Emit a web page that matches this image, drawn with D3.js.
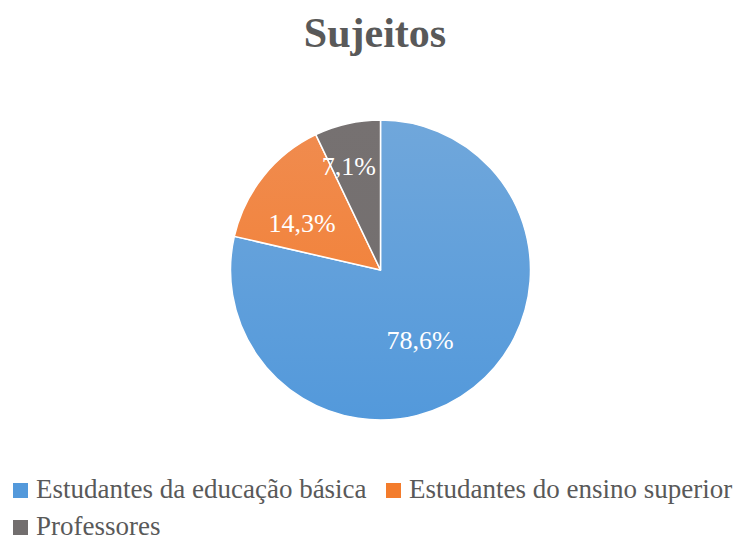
<!DOCTYPE html>
<html>
<head>
<meta charset="utf-8">
<script src="https://cdn.jsdelivr.net/npm/d3@7"></script>
<style>
	body { margin: 0; background: #fff; }
	svg text { font-family: "Liberation Serif", "Times New Roman", serif; }
</style>
</head>
<body>
<div class="pie-container"></div>
<script>
//---->DATA<-----//
const categories = ['Estudantes da educação básica', 'Estudantes do ensino superior', 'Professores'];
const values = [78.6, 14.3, 7.1];
const labels = ['78,6%', '14,3%', '7,1%'];
const title = 'Sujeitos';

const colorsTop = ['#70a7db', '#f08c50', '#767171'],
	colorsBottom = ['#5399db', '#f37c2c', '#726e6e'];

const outerW = 736,
	outerH = 538;

const cx = 380.5,
	cy = 270,
	radius = 150;

const data = categories.map((c, i) => ({ name: c, value: values[i], label: labels[i], i: i }));

const svg = d3.select('.pie-container').append('svg')
	.attr('width', outerW)
	.attr('height', outerH);

// gradients (top light -> bottom dark), in the pie group's coords
const defs = svg.append('defs');
data.forEach(d => {
	const grad = defs.append('linearGradient')
		.attr('id', 'grad' + d.i)
		.attr('gradientUnits', 'userSpaceOnUse')
		.attr('x1', 0).attr('y1', -radius)
		.attr('x2', 0).attr('y2', radius);
	grad.append('stop').attr('offset', '0%').attr('stop-color', colorsTop[d.i]);
	grad.append('stop').attr('offset', '100%').attr('stop-color', colorsBottom[d.i]);
});

// title
svg.append('text')
	.attr('x', 375)
	.attr('y', 47)
	.attr('text-anchor', 'middle')
	.style('font-size', '42px')
	.style('font-weight', 'bold')
	.style('fill', '#595959')
	.text(title);

const pie = d3.pie().sort(null).value(d => d.value);
const arcs = pie(data);

const arc = d3.arc().innerRadius(0).outerRadius(radius);

const g = svg.append('g')
	.attr('transform', `translate(${cx}, ${cy})`);

g.selectAll('.slice')
	.data(arcs)
	.enter().append('path')
	.attr('class', 'slice')
	.attr('d', arc)
	.attr('fill', d => `url(#grad${d.data.i})`)
	.attr('stroke', '#fff')
	.attr('stroke-width', 1.5)
	.attr('stroke-linejoin', 'round');

// label placement like Excel's best fit: radius fraction + angle nudge (deg)
const labelR = [0.536, 0.61, 0.725],
	labelNudge = [9.1, -7.7, -4.1];

g.selectAll('.pie-label')
	.data(arcs)
	.enter().append('text')
	.attr('class', 'pie-label')
	.attr('transform', d => {
		const a = (d.startAngle + d.endAngle) / 2 + labelNudge[d.data.i] * Math.PI / 180,
			r = radius * labelR[d.data.i];
		return `translate(${Math.sin(a) * r}, ${-Math.cos(a) * r})`;
	})
	.attr('text-anchor', 'middle')
	.attr('dy', '0.35em')
	.style('font-size', '26px')
	.style('fill', '#fff')
	.text(d => d.data.label);

// legend
const legendPos = [
	{ x: 13, y: 483 },
	{ x: 386, y: 483 },
	{ x: 13, y: 520 }
];

const legend = svg.selectAll('.legend-item')
	.data(data)
	.enter().append('g')
	.attr('class', 'legend-item')
	.attr('transform', d => `translate(${legendPos[d.i].x}, ${legendPos[d.i].y})`);

legend.append('rect')
	.attr('width', 15)
	.attr('height', 15)
	.attr('fill', d => colorsBottom[d.i]);

legend.append('text')
	.attr('x', 23)
	.attr('y', 15)
	.style('font-size', '27px')
	.style('fill', '#595959')
	.text(d => d.name);
</script>
</body>
</html>
